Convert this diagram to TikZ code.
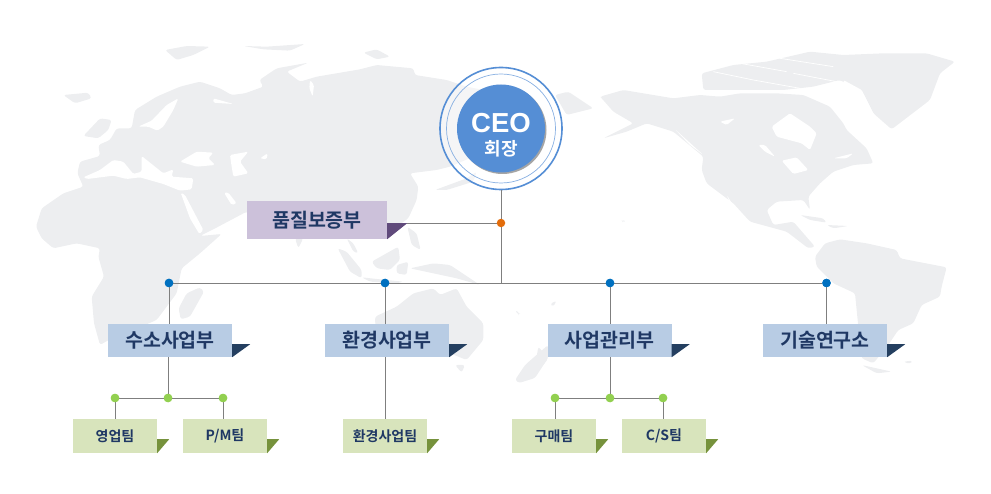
\documentclass[tikz,border=0pt]{standalone}
\usepackage{fontspec}
\setmainfont{Noto Sans CJK KR}[BoldFont={Noto Sans CJK KR Bold}]
\newfontfamily\latinb{Liberation Sans}[Scale=1]
\usetikzlibrary{shadows,calc}
\definecolor{mapc}{HTML}{EDEEF0}
\definecolor{linec}{HTML}{7F7F7F}
\definecolor{navy}{HTML}{1F3864}
\definecolor{blueb}{HTML}{B8CCE4}
\definecolor{blued}{HTML}{243F60}
\definecolor{purb}{HTML}{CCC1DA}
\definecolor{purd}{HTML}{604A7B}
\definecolor{greenb}{HTML}{D8E4BC}
\definecolor{greend}{HTML}{76923C}
\definecolor{ceoc}{HTML}{558ED5}
\definecolor{dotblue}{HTML}{0070C0}
\definecolor{dotgreen}{HTML}{92D050}
\definecolor{dotorange}{HTML}{E36C0A}
\tikzset{
 land/.style={fill=mapc,draw=none,rounded corners=2.5pt},
 sea/.style={fill=white,draw=none,rounded corners=1.5pt},
 conn/.style={draw=linec,line width=0.9pt},
 dept/.style={fill=blueb,minimum width=124pt,minimum height=33pt,inner sep=0pt,font=\bfseries\fontsize{19.5}{19.5}\selectfont,text=navy},
 qual/.style={fill=purb,minimum width=140pt,minimum height=38pt,inner sep=0pt,font=\bfseries\fontsize{19.5}{19.5}\selectfont,text=navy},
 team/.style={fill=greenb,minimum width=84pt,minimum height=34pt,inner sep=0pt,font=\bfseries\fontsize{14}{14}\selectfont,text=navy},
 dotb/.style={circle,fill=#1,minimum size=8.5pt,inner sep=0pt},
}
\begin{document}
\begin{tikzpicture}[x=1pt,y=-1pt]
\useasboundingbox (0,0) rectangle (991,494);
% --- map, left crop coordinates
\begin{scope}[x=0.33333pt,y=-0.33333pt,yshift=-30pt]
\fill[land] (108,590) -- (125,535) -- (190,490) -- (250,470) -- (232,430) -- (240,395) -- (300,378) -- (295,345) -- (330,330) -- (350,295) -- (395,295) -- (405,240) -- (470,200) -- (540,170) -- (600,155) -- (660,175) -- (695,195) -- (735,190) -- (790,170) -- (778,150) -- (830,115) -- (925,98) -- (860,125) -- (900,155) -- (950,140) -- (1080,118) -- (1130,105) -- (1240,115) -- (1245,135) -- (1340,150) -- (1400,170) -- (1450,180) -- (1500,160) -- (1500,330) -- (1420,380) -- (1350,410) -- (1310,420) -- (1230,430) -- (1255,470) -- (1250,510) -- (1225,565) -- (1190,590) -- (1160,620) -- (900,620) -- (790,580) -- (740,545) -- (640,598) -- (600,618) -- (665,612) -- (600,670) -- (545,715) -- (530,790) -- (470,870) -- (435,885) -- (370,905) -- (300,945) -- (282,880) -- (275,800) -- (312,740) -- (295,680) -- (300,655) -- (230,640) -- (160,655) -- (125,625) -- cycle;
% Iceland, Britain, Arctic islands
\fill[land] (190,195) -- (265,188) -- (275,205) -- (225,220) -- cycle;
\fill[land] (250,318) -- (300,265) -- (335,270) -- (325,300) -- (295,325) -- cycle;
\fill[land] (495,60) -- (560,48) -- (630,50) -- (580,75) -- (530,90) -- cycle;
\fill[land] (730,48) -- (800,50) -- (915,42) -- (870,62) -- (790,58) -- cycle;
\fill[land] (1090,68) -- (1130,58) -- (1170,80) -- (1130,88) -- cycle;
% seas
\fill[sea] (250,442) -- (300,420) -- (340,390) -- (370,395) -- (400,432) -- (425,425) -- (425,378) -- (490,430) -- (520,418) -- (515,440) -- (580,445) -- (575,478) -- (540,482) -- (490,462) -- (420,442) -- (380,447) -- (340,437) -- (262,447) -- cycle;
\fill[sea] (540,395) -- (590,365) -- (640,368) -- (625,385) -- (645,405) -- (590,410) -- cycle;
\fill[sea] (690,375) -- (745,365) -- (720,395) -- (745,430) -- (700,440) -- (695,410) -- cycle;
\fill[sea] (780,385) -- (803,370) -- (800,388) -- cycle;
\fill[sea] (542,488) -- (555,495) -- (610,600) -- (598,612) -- (570,565) -- cycle;
\fill[sea] (672,488) -- (685,488) -- (710,520) -- (695,525) -- cycle;
\fill[sea] (415,290) -- (455,272) -- (500,225) -- (535,205) -- (520,240) -- (490,290) -- (472,302) -- (445,290) -- cycle;
\fill[sea] (640,205) -- (700,222) -- (640,218) -- cycle;
\fill[sea] (930,150) -- (942,165) -- (938,200) -- (928,175) -- cycle;
\fill[sea] (1270,430) -- (1290,460) -- (1285,480) -- (1258,470) -- cycle;
% Japan, Madagascar, islands
\fill[land] (1305,480) -- (1400,445) -- (1430,425) -- (1420,455) -- (1340,480) -- cycle;
\fill[land] (490,685) -- (505,690) -- (485,708) -- cycle;
\fill[land] (600,772) -- (612,785) -- (570,860) -- (542,868) -- (536,835) -- (560,790) -- cycle;
\fill[land] (885,625) -- (910,625) -- (895,655) -- cycle;
\fill[land] (1013,655) -- (1040,665) -- (1085,720) -- (1085,745) -- (1050,725) -- cycle;
\fill[land] (1115,695) -- (1195,650) -- (1200,690) -- (1170,720) -- (1130,715) -- cycle;
\fill[land] (1040,625) -- (1060,640) -- (1075,670) -- (1060,665) -- cycle;
\fill[land] (1222,590) -- (1250,610) -- (1262,660) -- (1235,645) -- cycle;
\fill[land] (1190,705) -- (1225,695) -- (1220,735) -- (1190,730) -- cycle;
\fill[land] (1085,742) -- (1140,748) -- (1210,755) -- (1190,760) -- (1110,755) -- cycle;
\fill[land] (1230,715) -- (1300,700) -- (1350,705) -- (1440,765) -- (1370,745) -- (1300,730) -- cycle;
% Australia
\fill[land] (1125,860) -- (1190,830) -- (1240,790) -- (1300,775) -- (1320,795) -- (1370,775) -- (1400,830) -- (1450,880) -- (1450,930) -- (1400,990) -- (1350,970) -- (1300,935) -- (1230,950) -- (1130,975) -- cycle;
\fill[land] (1365,1005) -- (1395,1005) -- (1385,1028) -- cycle;
\end{scope}
% --- map, right crop coordinates
\begin{scope}[x=0.33333pt,y=-0.33333pt,xshift=500pt,yshift=-30pt]
\fill[land] (165,195) -- (205,185) -- (280,235) -- (200,255) -- cycle;
\fill[land] (300,200) -- (370,180) -- (520,205) -- (600,195) -- (660,200) -- (720,190) -- (830,190) -- (910,195) -- (990,230) -- (1030,280) -- (1040,300) -- (1100,355) -- (1120,400) -- (1060,405) -- (1000,425) -- (960,460) -- (925,500) -- (930,540) -- (910,510) -- (830,515) -- (800,540) -- (820,585) -- (880,575) -- (945,650) -- (925,655) -- (860,605) -- (750,575) -- (700,520) -- (620,460) -- (605,420) -- (610,380) -- (520,305) -- (440,280) -- (380,305) -- (310,325) -- (400,280) -- (340,245) -- (305,205) -- cycle;
\fill[land] (605,130) -- (700,105) -- (800,95) -- (930,65) -- (1030,75) -- (1150,70) -- (1280,70) -- (1365,95) -- (1320,130) -- (1290,210) -- (1175,298) -- (1120,250) -- (1090,190) -- (1020,150) -- (940,170) -- (850,180) -- (720,180) -- (610,180) -- cycle;
% Hudson bay, lakes, etc
\fill[sea] (815,290) -- (870,250) -- (930,290) -- (950,310) -- (930,360) -- (905,340) -- (830,320) -- cycle;
\fill[sea] (845,392) -- (890,382) -- (925,420) -- (880,432) -- cycle;
\fill[sea] (775,345) -- (795,345) -- (825,380) -- (795,365) -- cycle;
\fill[sea] (1000,385) -- (1060,370) -- (1040,385) -- cycle;
\fill[sea] (660,275) -- (705,265) -- (680,285) -- cycle;
\foreach \a/\b/\c in {640/125/760,720/100/860,760/150/900,840/85/1000,880/130/1010}{
  \draw[white,line width=0.7pt] (\a,\b) -- (\c,\b+25);
}
\fill[sea] (1030,150) -- (1085,180) -- (1125,260) -- (1170,300) -- (1090,290) -- (1060,235) -- (1035,190) -- cycle;
\fill[sea] (525,298) -- (610,375) -- (570,345) -- cycle;
\fill[sea] (680,495) -- (715,550) -- (695,530) -- cycle;
% Caribbean
\fill[land] (900,555) -- (970,565) -- (980,578) -- (930,570) -- cycle;
\fill[land] (980,585) -- (1045,588) -- (1000,595) -- cycle;
% South America
\fill[land] (945,680) -- (975,640) -- (1020,628) -- (1100,640) -- (1190,660) -- (1200,685) -- (1340,712) -- (1325,770) -- (1320,800) -- (1265,825) -- (1240,880) -- (1195,900) -- (1165,945) -- (1120,1000) -- (1085,985) -- (1075,890) -- (1065,790) -- (1000,760) -- (950,710) -- cycle;
\fill[land] (1085,1005) -- (1175,1025) -- (1130,1030) -- cycle;
\fill[land] (1210,995) -- (1238,992) -- (1230,1002) -- cycle;
% NZ and pacific islands
\fill[land] (45,1050) -- (105,1010) -- (115,950) -- (145,985) -- (110,1030) -- (75,1050) -- cycle;
\fill[land] (150,822) -- (170,812) -- (160,830) -- cycle;
\fill[land] (45,840) -- (60,850) -- (55,855) -- cycle;
\fill[land] (365,570) -- (378,572) -- (368,577) -- cycle;
\end{scope}
% NZ south island continuation below the crop
\fill[land] (515,380) -- (525,365) -- (548,345) -- (548,358) -- (535,378) -- (519,383) -- cycle;
% --- CEO
\node[circle,draw=ceoc,line width=1.6pt,fill=white,fill opacity=0.45,draw opacity=1,minimum size=122pt,inner sep=0pt] (ceo) at (501,128.5) {};
\node[circle,draw=ceoc!70,line width=0.7pt,minimum size=109pt,inner sep=0pt] (ring) at (501,128.5) {};
\node[circle,fill=ceoc,minimum size=88pt,inner sep=0pt,drop shadow={shadow xshift=1.5pt,shadow yshift=-1.5pt,opacity=0.5,fill=black!70}] (disk) at (501,128.5) {};
\node[text=white,font=\latinb\bfseries\fontsize{27.5}{27.5}\selectfont,inner sep=0pt] (ceot) at (501,123) {CEO};
\node[text=white,font=\bfseries\fontsize{18}{18}\selectfont,inner sep=0pt] (ceok) at (501,149) {회장};
% --- nodes
\coordinate (jq) at (501,223);
\coordinate (jm) at (501,283);
\node[qual] (qa) at (317,220) {품질보증부};
\coordinate (qe) at (407,223);
\node[dotb=dotblue] (d1) at (169,283) {};
\node[dotb=dotblue] (d2) at (385,283) {};
\node[dotb=dotblue] (d3) at (610,283) {};
\node[dotb=dotblue] (d4) at (826.5,283) {};
\node[dept] (a) at (170,340.5) {수소사업부};
\node[dept] (b) at (387,340.5) {환경사업부};
\node[dept] (c) at (609.5,340.5) {사업관리부};
\node[dept] (e) at (825,340.5) {기술연구소};
\node[dotb=dotgreen] (g1) at (115,398) {};
\node[dotb=dotgreen] (g2) at (168,398) {};
\node[dotb=dotgreen] (g3) at (223,398) {};
\node[dotb=dotgreen] (g4) at (555,398) {};
\node[dotb=dotgreen] (g5) at (610,398) {};
\node[dotb=dotgreen] (g6) at (663,398) {};
\node[team] (t1) at (115,436) {영업팀};
\node[team] (t2) at (225,436) {P/M팀};
\node[team] (t3) at (385,436) {환경사업팀};
\node[team] (t4) at (554,436) {구매팀};
\node[team] (t5) at (664,436) {C/S팀};
% --- fold triangles
\foreach \n/\c/\w/\h in {qa/purd/20/16,a/blued/18/13,b/blued/18/13,c/blued/18/13,e/blued/18/13,t1/greend/12/14,t2/greend/12/14,t3/greend/12/14,t4/greend/12/14,t5/greend/12/14}{
  \fill[\c] (\n.south east) -- ++(0,-\h) -- ++(\w,0) -- cycle;
}
% --- connectors
\draw[conn] (ceo.south) -- (jm);
\draw[conn] (qe) -- (jq);
\draw[conn] (d1) -- (d4);
\draw[conn] (d1) -- (d1|-a.north);
\draw[conn] (d2) -- (d2|-b.north);
\draw[conn] (d3) -- (d3|-c.north);
\draw[conn] (d4) -- (d4|-e.north);
\draw[conn] (g2|-a.south) -- (g2);
\draw[conn] (t3|-b.south) -- (t3.north);
\draw[conn] (g5|-c.south) -- (g5);
\draw[conn] (g1) -- (g3);
\draw[conn] (g4) -- (g6);
\draw[conn] (g1) -- (g1|-t1.north);
\draw[conn] (g3) -- (g3|-t2.north);
\draw[conn] (g4) -- (g4|-t4.north);
\draw[conn] (g6) -- (g6|-t5.north);
% dots on top
\node[dotb=dotorange] (dq) at (jq) {};
\foreach \p/\c in {d1/dotblue,d2/dotblue,d3/dotblue,d4/dotblue,g1/dotgreen,g2/dotgreen,g3/dotgreen,g4/dotgreen,g5/dotgreen,g6/dotgreen}{
  \fill[\c] (\p) circle (4.25pt);
}
\end{tikzpicture}
\end{document}
